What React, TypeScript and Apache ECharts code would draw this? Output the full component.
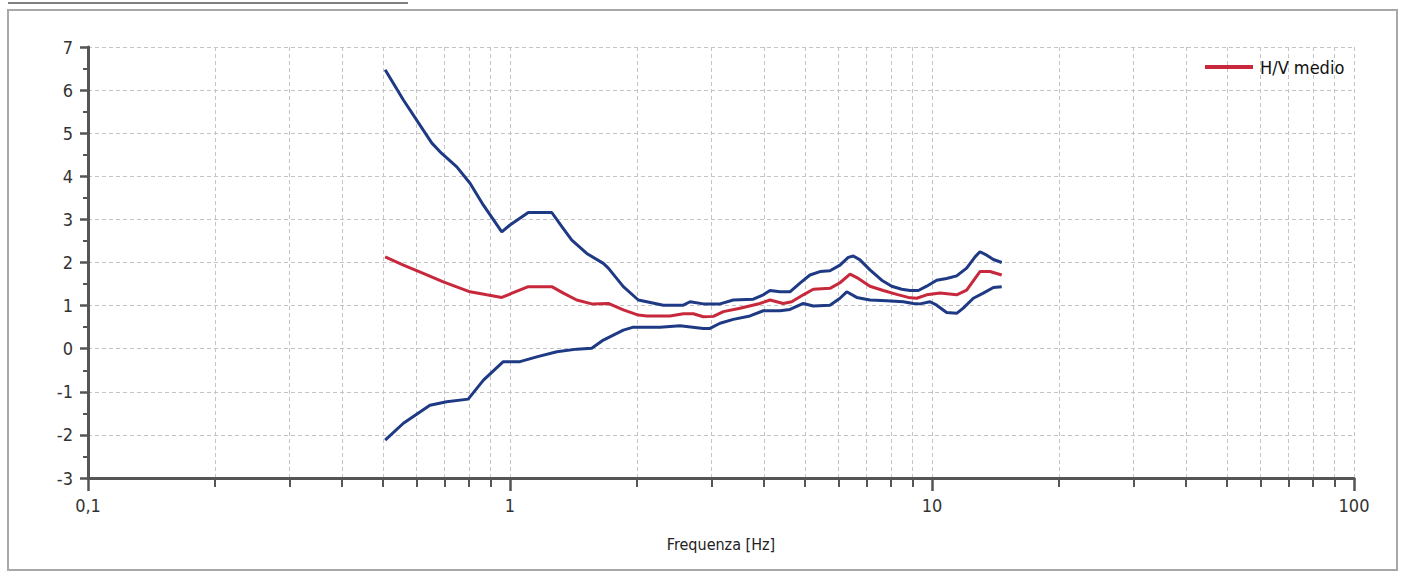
import React, { useEffect, useRef } from "react";
import * as echarts from "echarts";

// H/V + std (upper envelope)
const upperFreq = [0.506, 0.559, 0.623, 0.653, 0.689, 0.748, 0.804, 0.865, 0.956, 1.0, 1.105, 1.256, 1.327, 1.401, 1.52, 1.664, 1.71, 1.856, 2.014, 2.109, 2.309, 2.575, 2.671, 2.871, 3.146, 3.382, 3.772, 3.984, 4.132, 4.363, 4.607, 4.866, 5.139, 5.427, 5.731, 6.053, 6.333, 6.508, 6.75, 7.128, 7.6, 8.026, 8.477, 8.868, 9.282, 9.714, 10.26, 10.83, 11.44, 12.08, 12.65, 12.99, 13.48, 13.98, 14.63];
const upperHV = [6.47, 5.77, 5.07, 4.77, 4.53, 4.22, 3.84, 3.33, 2.71, 2.87, 3.16, 3.16, 2.83, 2.52, 2.21, 1.98, 1.87, 1.44, 1.13, 1.09, 1.01, 1.01, 1.09, 1.04, 1.04, 1.13, 1.15, 1.25, 1.35, 1.32, 1.32, 1.52, 1.71, 1.79, 1.81, 1.94, 2.12, 2.15, 2.06, 1.83, 1.59, 1.45, 1.38, 1.35, 1.35, 1.45, 1.59, 1.63, 1.69, 1.87, 2.13, 2.25, 2.17, 2.07, 2.0];

// H/V medio
const meanFreq = [0.506, 0.559, 0.623, 0.695, 0.804, 0.881, 0.956, 1.018, 1.105, 1.256, 1.338, 1.439, 1.562, 1.71, 1.856, 2.014, 2.109, 2.394, 2.575, 2.719, 2.871, 3.033, 3.203, 3.508, 3.912, 4.132, 4.442, 4.651, 4.955, 5.233, 5.731, 6.053, 6.393, 6.689, 7.128, 7.666, 8.249, 8.787, 9.199, 9.714, 10.45, 11.44, 12.08, 12.99, 13.72, 14.63];
const meanHV = [2.13, 1.94, 1.75, 1.55, 1.32, 1.25, 1.19, 1.3, 1.44, 1.44, 1.29, 1.13, 1.04, 1.05, 0.9, 0.78, 0.76, 0.76, 0.81, 0.81, 0.74, 0.75, 0.86, 0.94, 1.05, 1.13, 1.05, 1.09, 1.25, 1.38, 1.4, 1.53, 1.73, 1.63, 1.45, 1.35, 1.26, 1.19, 1.17, 1.25, 1.29, 1.25, 1.36, 1.79, 1.79, 1.71];

// H/V - std (lower envelope)
const lowerFreq = [0.506, 0.559, 0.646, 0.708, 0.796, 0.865, 0.964, 1.056, 1.157, 1.291, 1.439, 1.562, 1.664, 1.856, 1.96, 2.268, 2.528, 2.871, 2.978, 3.146, 3.382, 3.704, 3.984, 4.363, 4.607, 4.955, 5.233, 5.731, 6.053, 6.279, 6.63, 7.128, 7.808, 8.551, 9.031, 9.367, 9.892, 10.26, 10.83, 11.44, 11.86, 12.53, 13.23, 13.98, 14.63];
const lowerHV = [-2.12, -1.73, -1.31, -1.23, -1.17, -0.73, -0.3, -0.3, -0.19, -0.07, -0.01, 0.01, 0.2, 0.43, 0.5, 0.5, 0.53, 0.47, 0.47, 0.59, 0.68, 0.76, 0.88, 0.88, 0.91, 1.05, 0.99, 1.01, 1.17, 1.32, 1.19, 1.13, 1.11, 1.09, 1.05, 1.04, 1.09, 1.01, 0.84, 0.82, 0.94, 1.17, 1.29, 1.42, 1.44];

const decadeFreqs = [0.1, 1, 10, 100];
const minorFreqs = [0.2, 0.3, 0.4, 0.5, 0.6, 0.7, 0.8, 0.9, 2, 3, 4, 5, 6, 7, 8, 9, 20, 30, 40, 50, 60, 70, 80, 90];
const yMin = -3;
const yMax = 7;

const FONT = "'Liberation Sans Narrow', 'DejaVu Sans Condensed', 'Roboto', 'Liberation Sans', sans-serif";
const AXIS_COLOR = "#555555";
const GRID_COLOR = "#c4c4c4";
const BLUE = "#1f3a84";
const RED = "#c8283c";

const toPairs = (fs: number[], vs: number[]) => fs.map((f, i) => [Math.log10(f), vs[i]]);

export default function App() {
  const ref = useRef<HTMLDivElement>(null);
  useEffect(() => {
    if (!ref.current) return;
    const chart = echarts.init(ref.current, null, { renderer: "svg" });
    const splitStyle = { color: GRID_COLOR, type: [4, 3] as any, width: 1 };
    chart.setOption({
      animation: false,
      backgroundColor: "#ffffff",
      textStyle: { fontFamily: FONT },
      grid: { left: 88, right: 47, top: 47, bottom: 96, containLabel: false },
      graphic: [
        { type: "rect", shape: { x: 8, y: 10, width: 1389, height: 560 }, style: { fill: "none", stroke: "#a8a8a8", lineWidth: 2 }, z: -10 },
        { type: "line", shape: { x1: 8, y1: 3, x2: 408, y2: 3 }, style: { stroke: "#555", lineWidth: 1.5 } },
      ],
      legend: {
        data: ["H/V medio"],
        left: 1200,
        top: 53,
        icon: "rect",
        itemWidth: 48,
        itemHeight: 4,
        itemGap: 10,
        textStyle: { fontFamily: FONT, fontSize: 18, color: "#111", padding: [0, 0, 0, 2] },
      },
      xAxis: [
        {
          type: "value",
          min: -1,
          max: 2,
          position: "bottom",
          axisLine: { show: true, onZero: false, lineStyle: { color: AXIS_COLOR, width: 3 } },
          axisTick: { show: true, length: 13, lineStyle: { color: AXIS_COLOR, width: 2.5 }, customValues: decadeFreqs.map((f) => Math.log10(f)) },
          axisLabel: {
            show: true,
            margin: 18,
            fontSize: 18,
            color: "#333",
            fontFamily: FONT,
            customValues: decadeFreqs.map((f) => Math.log10(f)),
            formatter: (v: number) => String(Math.round(Math.pow(10, v) * 10) / 10).replace(".", ","),
          },
          splitLine: { show: true, lineStyle: splitStyle },
          name: "Frequenza [Hz]",
          nameLocation: "middle",
          nameGap: 58,
          nameTextStyle: { fontFamily: FONT, fontSize: 16, color: "#222" },
        },
        {
          type: "value",
          min: -1,
          max: 2,
          position: "top",
          offset: -431,
          axisLine: { show: false, onZero: false },
          axisTick: { show: true, inside: true, length: 9, lineStyle: { color: AXIS_COLOR, width: 2 }, customValues: minorFreqs.map((f) => Math.log10(f)) },
          axisLabel: { show: false },
          splitLine: { show: true, lineStyle: splitStyle },
        },
      ],
      yAxis: {
        type: "value",
        min: yMin,
        max: yMax,
        interval: 1,
        axisLine: { show: true, onZero: false, lineStyle: { color: AXIS_COLOR, width: 3 } },
        axisTick: { show: true, length: 8, lineStyle: { color: AXIS_COLOR, width: 2.5 } },
        minorTick: { show: true, splitNumber: 2, length: 5, lineStyle: { color: AXIS_COLOR, width: 2 } },
        axisLabel: { margin: 15, fontSize: 18, color: "#333", fontFamily: FONT },
        splitLine: { show: true, lineStyle: splitStyle },
      },
      series: [
        {
          name: "H/V + std",
          type: "line",
          xAxisIndex: 0,
          data: toPairs(upperFreq, upperHV),
          showSymbol: false,
          lineStyle: { color: BLUE, width: 3 },
          itemStyle: { color: BLUE },
          z: 3,
        },
        {
          name: "H/V - std",
          type: "line",
          xAxisIndex: 0,
          data: toPairs(lowerFreq, lowerHV),
          showSymbol: false,
          lineStyle: { color: BLUE, width: 3 },
          itemStyle: { color: BLUE },
          z: 3,
        },
        {
          name: "H/V medio",
          type: "line",
          xAxisIndex: 0,
          data: toPairs(meanFreq, meanHV),
          showSymbol: false,
          lineStyle: { color: RED, width: 3 },
          itemStyle: { color: RED },
          z: 4,
        },
      ],
    });
    return () => chart.dispose();
  }, []);
  return (
    <div
      ref={ref}
      style={{ position: "fixed", left: 0, top: 0, width: 1401, height: 574, background: "#fff" }}
    />
  );
}
